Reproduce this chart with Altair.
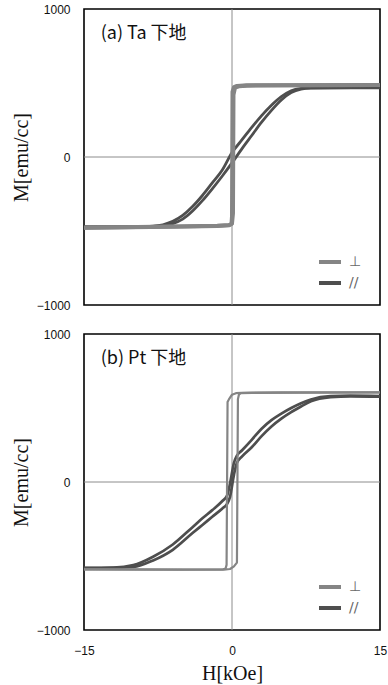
import altair as alt
import pandas as pd

# ---- magnetization loops M(H) ----
# (a) Ta underlayer, field perpendicular to film
ta_perp_down_h = [15, 6, 1.5, 0.5, 0.2, 0.05, 0.0, -0.05, -0.3, -1.5, -6, -15]
ta_perp_down_m = [486, 485, 484, 480, 472, 440, -400, -452, -460, -464, -470, -478]
ta_perp_up_h = [-15, -6, -1.5, -0.3, 0.0, 0.1, 0.15, 0.3, 0.7, 1.5, 6, 15]
ta_perp_up_m = [-478, -472, -466, -462, -450, -380, 420, 468, 478, 482, 484, 486]

# (a) Ta underlayer, field in plane
ta_para_h = [-15, -10, -8, -7, -6, -5, -4, -3, -2, -1, 0, 1, 2, 3, 4, 5, 6, 7, 8, 10, 15]
ta_para_up_m = [-472, -471, -469, -463, -450, -420, -365, -295, -215, -130, -40,
                55, 145, 235, 315, 385, 435, 458, 465, 467, 467]
ta_para_down_m = [-472, -470, -467, -458, -435, -395, -335, -260, -175, -90, 30,
                  115, 200, 280, 350, 408, 448, 463, 467, 468, 469]

# (b) Pt underlayer, field perpendicular to film
pt_perp_down_h = [15, 5, 1.0, 0.4, 0.0, -0.3, -0.45, -0.55, -0.65, -0.9, -5, -15]
pt_perp_down_m = [606, 605, 603, 600, 590, 560, 540, -560, -585, -590, -592, -590]
pt_perp_up_h = [-15, -5, -0.8, -0.2, 0.2, 0.5, 0.6, 0.7, 0.9, 2, 8, 15]
pt_perp_up_m = [-590, -592, -592, -588, -570, -545, 560, 590, 600, 602, 604, 606]

# (b) Pt underlayer, field in plane
pt_para_h = [-15, -12, -10, -8, -6, -4, -3, -2, -1, -0.5, -0.2, 0.2, 0.5, 1,
             2, 3, 4, 5, 6, 7, 8, 10, 12, 15]
pt_para_up_m = [-582, -580, -574, -530, -458, -345, -290, -235, -180, -148, -100, 50,
                130, 172, 235, 310, 375, 428, 472, 510, 545, 573, 579, 577]
pt_para_down_m = [-580, -578, -562, -505, -422, -305, -245, -190, -130, -92, -10, 130,
                  178, 213, 285, 360, 418, 462, 500, 532, 558, 580, 583, 581]

SERIES = ["⊥", "//"]
PERP_COLOR = "#858585"
PARA_COLOR = "#4e4e4e"

panel_labels = {"Ta": "(a) Ta 下地", "Pt": "(b) Pt 下地"}


def branch_rows(panel, series, branch, hs, ms):
    return [
        {"panel": panel, "series": series, "branch": branch, "idx": i, "H": h, "M": m}
        for i, (h, m) in enumerate(zip(hs, ms))
    ]


rows = []
rows += branch_rows("Ta", "⊥", "down", ta_perp_down_h, ta_perp_down_m)
rows += branch_rows("Ta", "⊥", "up", ta_perp_up_h, ta_perp_up_m)
rows += branch_rows("Ta", "//", "up", ta_para_h, ta_para_up_m)
rows += branch_rows("Ta", "//", "down", ta_para_h[::-1], ta_para_down_m[::-1])
rows += branch_rows("Pt", "⊥", "down", pt_perp_down_h, pt_perp_down_m)
rows += branch_rows("Pt", "⊥", "up", pt_perp_up_h, pt_perp_up_m)
rows += branch_rows("Pt", "//", "up", pt_para_h, pt_para_up_m)
rows += branch_rows("Pt", "//", "down", pt_para_h[::-1], pt_para_down_m[::-1])
loops = pd.DataFrame(rows)

X_DOMAIN = [-15, 15]
Y_DOMAIN = [-1000, 1000]
W = H_ = 296


def x_enc(field, show_axis):
    if show_axis:
        axis = alt.Axis(
            values=[-15, 0, 15], format="d", grid=False, domain=False, ticks=False,
            tickSize=0, labelPadding=15, labelFlush=False, labelOverlap=False,
            labelFont="Liberation Sans", labelFontSize=12, labelColor="#111",
            title="H[kOe]", titleFont="Liberation Serif", titleFontSize=20,
            titleFontWeight="normal", titleColor="#111", titleX=148, titleY=43,
            titleBaseline="middle",
        )
    else:
        axis = None
    return alt.X(f"{field}:Q", scale=alt.Scale(domain=X_DOMAIN, nice=False, zero=False), axis=axis)


def y_enc(field):
    axis = alt.Axis(
        values=[-1000, 0, 1000], format="d", grid=False, domain=False, ticks=False,
        tickSize=0, labelPadding=14, labelOverlap=False, labelFlush=False,
        labelFont="Liberation Sans", labelFontSize=12, labelColor="#111",
        title="M[emu/cc]", titleFont="Liberation Serif", titleFontSize=20,
        titleFontWeight="normal", titleColor="#111", titleX=-63, titleY=148,
        titleAngle=270, titleAlign="center", titleBaseline="middle",
    )
    return alt.Y(f"{field}:Q", scale=alt.Scale(domain=Y_DOMAIN, nice=False, zero=False), axis=axis)


def color_enc():
    return alt.Color(
        "series:N",
        scale=alt.Scale(domain=SERIES, range=[PERP_COLOR, PARA_COLOR]),
        legend=alt.Legend(
            title=None, orient="none", legendX=233, legendY=240,
            symbolType="stroke", symbolSize=484, symbolStrokeWidth=4,
            labelFont="DejaVu Sans", labelFontSize=14, labelColor="#666",
            rowPadding=0, padding=0, symbolOffset=0, labelOffset=6,
        ),
    )


def panel(name, show_x, perp_width, para_width):
    data = loops[loops["panel"] == name]
    zero = pd.DataFrame({"v": [0]})

    vline = alt.Chart(zero).mark_rule(color="#8c8c8c", strokeWidth=1).encode(
        x=x_enc("v", show_x))
    hline = alt.Chart(zero).mark_rule(color="#8c8c8c", strokeWidth=1).encode(
        y=y_enc("v"))

    para = alt.Chart(data[data["series"] == "//"]).mark_line(
        strokeWidth=para_width, clip=True, strokeJoin="round", interpolate="monotone"
    ).encode(x=x_enc("H", show_x), y=y_enc("M"), color=color_enc(),
             detail="branch:N", order="idx:Q")
    perp = alt.Chart(data[data["series"] == "⊥"]).mark_line(
        strokeWidth=perp_width, clip=True, strokeJoin="round"
    ).encode(x=x_enc("H", show_x), y=y_enc("M"), color=color_enc(),
             detail="branch:N", order="idx:Q")

    label = alt.Chart(pd.DataFrame({"H": [-13.3], "M": [832], "t": [panel_labels[name]]})).mark_text(
        align="left", baseline="middle", font="Noto Sans CJK JP", fontSize=18, color="#111"
    ).encode(x=x_enc("H", show_x), y=y_enc("M"), text="t:N")

    return alt.layer(vline, hline, para, perp, label).properties(width=W, height=H_)


chart = (
    alt.vconcat(panel("Ta", False, 4, 2.8), panel("Pt", True, 2.2, 2.7), spacing=15)
    .resolve_legend(color="independent")
    .properties(
        padding={"left": 10, "top": 2, "right": 0, "bottom": 0},
        background="white",
    )
    .configure_view(stroke="black", strokeWidth=1.6)
)

chart.save("out.html", embed_options={"renderer": "svg", "actions": False})
